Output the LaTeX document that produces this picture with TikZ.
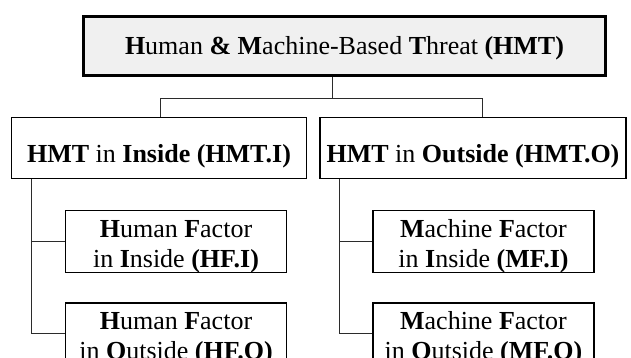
\documentclass[tikz,border=0pt]{standalone}
\usepackage{fontspec}
\setmainfont{Liberation Serif}
\usetikzlibrary{positioning, calc}
\definecolor{boxfill}{HTML}{F0F0F0}
\definecolor{linkgray}{HTML}{2B2B2B}

\begin{document}
\begin{tikzpicture}[
    x=1pt, y=-1pt,
    node distance=29pt,
    box/.style={rectangle, draw=black, line width=1.2pt, inner sep=2pt,
                align=center, font=\fontsize{26}{30}\selectfont},
    root/.style={box, line width=2.8pt, fill=boxfill,
                 minimum width=522pt, minimum height=59pt,
                 text height=18pt, text depth=0pt},
    branch/.style={box, minimum height=61pt, text height=30pt, text depth=0pt},
    leaf/.style={box, minimum width=221pt, minimum height=62pt,
                 text height=51pt, text depth=0pt},
    link/.style={draw=linkgray, line width=0.9pt}
]
\useasboundingbox (0,0) rectangle (631,358);
\clip (0,0) rectangle (631,358);

\node[root] (hmt) at (344.5,46) {\textbf{H}uman \textbf{\&} \textbf{M}achine-Based \textbf{T}hreat \textbf{(HMT)}};
\node[branch, minimum width=295pt] (hmti) at (159,148) {\textbf{HMT} in \textbf{Inside (HMT.I)}};
\node[branch, minimum width=306pt] (hmto) at (473,148) {\textbf{HMT} in \textbf{Outside (HMT.O)}};

\node[leaf, below right=31pt and 54pt of hmti.south west] (hfi) {\textbf{H}uman \textbf{F}actor\\in \textbf{I}nside \textbf{(HF.I)}};
\node[leaf, below=of hfi] (hfo) {\textbf{H}uman \textbf{F}actor\\in \textbf{O}utside \textbf{(HF.O)}};
\node[leaf, below right=31pt and 53pt of hmto.south west] (mfi) {\textbf{M}achine \textbf{F}actor\\in \textbf{I}nside \textbf{(MF.I)}};
\node[leaf, below=of mfi] (mfo) {\textbf{M}achine \textbf{F}actor\\in \textbf{O}utside \textbf{(MF.O)}};

\coordinate (hub) at (332,98);
\coordinate (hubL) at (160,98);
\coordinate (hubR) at (482,98);
\coordinate (trunkL) at ($(hmti.south west)+(21,0)$);
\coordinate (trunkR) at ($(hmto.south west)+(20,0)$);

\draw[link] (hmt.south -| hub) -- (hub);
\draw[link] (hubL |- hmti.north) -- (hubL) -- (hubR) -- (hubR |- hmto.north);
\draw[link] (trunkL) |- (hfo.west);
\draw[link] (trunkL |- hfi.west) -- (hfi.west);
\draw[link] (trunkR) |- (mfo.west);
\draw[link] (trunkR |- mfi.west) -- (mfi.west);
\end{tikzpicture}
\end{document}
